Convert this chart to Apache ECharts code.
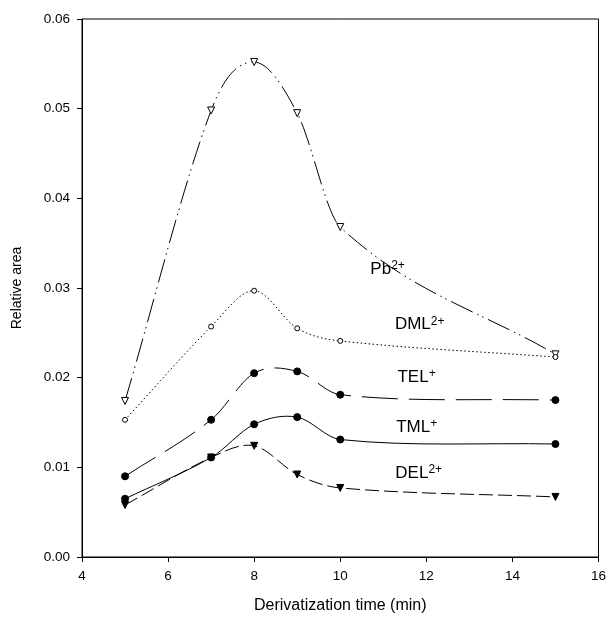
<!DOCTYPE html>
<html>
<head>
<meta charset="utf-8">
<script src="https://cdn.jsdelivr.net/npm/echarts@6/dist/echarts.min.js"></script>
<style>
  html, body { margin: 0; padding: 0; background: #fff; }
  #chart { width: 609px; height: 621px; }
</style>
</head>
<body>
<div id="chart"></div>
<script>
// Derivatization time (min)
const times = [5, 7, 8, 9, 10, 15];

// Relative area per species
const pb  = [0.0174, 0.0498, 0.0552, 0.0495, 0.0368, 0.0226];
const dml = [0.0153, 0.0257, 0.0297, 0.0255, 0.0241, 0.0223];
const tel = [0.0090, 0.0153, 0.0205, 0.0207, 0.0181, 0.0175];
const tml = [0.0065, 0.0111, 0.0148, 0.0156, 0.0131, 0.0126];
const del = [0.0058, 0.0111, 0.0124, 0.0092, 0.0077, 0.0067];

// Curve labels: [base text, superscript, x, y] in data units
const labelPb  = ['Pb',  '2+', 10.7, 0.0321];
const labelDml = ['DML', '2+', 11.27, 0.0259];
const labelTel = ['TEL', '+',  11.33, 0.0200];
const labelTml = ['TML', '+',  11.3, 0.0145];
const labelDel = ['DEL', '2+', 11.28, 0.0093];

const FONT = 'Liberation Sans, Arial, sans-serif';

function pairs(ys) { return times.map((t, i) => [t, ys[i]]); }

// Cubic Hermite spline through the points (central-difference slopes),
// expressed as Bezier segments and mapped to pixels by the axes.
function splinePath(ys, api) {
  const n = times.length;
  const m = [];
  for (let i = 0; i < n; i++) {
    if (i === 0) m.push((ys[1] - ys[0]) / (times[1] - times[0]));
    else if (i === n - 1) m.push((ys[n - 1] - ys[n - 2]) / (times[n - 1] - times[n - 2]));
    else m.push((ys[i + 1] - ys[i - 1]) / (times[i + 1] - times[i - 1]));
  }
  const p0 = api.coord([times[0], ys[0]]);
  let d = 'M' + p0[0] + ' ' + p0[1];
  for (let i = 0; i < n - 1; i++) {
    const h = times[i + 1] - times[i];
    const c1 = api.coord([times[i] + h / 3, ys[i] + m[i] * h / 3]);
    const c2 = api.coord([times[i + 1] - h / 3, ys[i + 1] - m[i + 1] * h / 3]);
    const p1 = api.coord([times[i + 1], ys[i + 1]]);
    d += ' C' + c1[0] + ' ' + c1[1] + ' ' + c2[0] + ' ' + c2[1] + ' ' + p1[0] + ' ' + p1[1];
  }
  return d;
}

function curveSeries(ys, dash) {
  return {
    type: 'custom',
    data: [0],
    silent: true,
    z: 2,
    renderItem: function (params, api) {
      return {
        type: 'path',
        shape: { pathData: splinePath(ys, api) },
        style: {
          fill: null,
          stroke: '#000',
          lineWidth: 1,
          lineDash: dash
        }
      };
    }
  };
}

function curveLabel(lbl) {
  return {
    silent: true,
    symbol: 'circle',
    symbolSize: 0,
    data: [{
      coord: [lbl[2], lbl[3]],
      label: {
        show: true,
        position: 'right',
        distance: 0,
        formatter: '{b|' + lbl[0] + '}{s|' + lbl[1] + '}',
        rich: {
          b: { fontSize: 17, fontFamily: FONT, color: '#000', lineHeight: 19 },
          s: { fontSize: 12, fontFamily: FONT, color: '#000', lineHeight: 12, verticalAlign: 'top' }
        }
      }
    }]
  };
}

function markerSeries(name, ys, symbol, rotate, size, filled, lbl) {
  return {
    name: name,
    type: 'scatter',
    data: pairs(ys),
    symbol: symbol,
    symbolRotate: rotate,
    symbolSize: size,
    itemStyle: { color: filled ? '#000' : '#fff', borderColor: '#000', borderWidth: 1, opacity: 1 },
    emphasis: { disabled: true },
    markPoint: curveLabel(lbl),
    z: 3
  };
}

const chart = echarts.init(document.getElementById('chart'), null, { renderer: 'canvas' });

chart.setOption({
  animation: false,
  backgroundColor: '#fff',
  grid: {
    left: 82, right: 7, top: 19, bottom: 64,
    show: true, borderColor: '#000', borderWidth: 1, backgroundColor: 'transparent'
  },
  xAxis: {
    type: 'value',
    min: 4, max: 16, interval: 2,
    name: 'Derivatization time (min)',
    nameLocation: 'middle',
    nameGap: 41,
    nameTextStyle: { fontSize: 16, fontFamily: FONT, color: '#000' },
    axisLine: { show: true, onZero: false, lineStyle: { color: '#000', width: 1 } },
    axisTick: { show: true, inside: false, length: 5, lineStyle: { color: '#000' } },
    axisLabel: { fontSize: 13.5, fontFamily: FONT, color: '#000', margin: 12 },
    splitLine: { show: false }
  },
  yAxis: {
    type: 'value',
    min: 0, max: 0.06, interval: 0.01,
    name: 'Relative area',
    nameLocation: 'middle',
    nameGap: 58,
    nameTextStyle: { fontSize: 14, fontFamily: FONT, color: '#000' },
    axisLine: { show: true, lineStyle: { color: '#000', width: 1 } },
    axisTick: { show: true, inside: false, length: 5, lineStyle: { color: '#000' } },
    axisLabel: {
      fontSize: 13.5, fontFamily: FONT, color: '#000', margin: 12,
      formatter: v => v.toFixed(2)
    },
    splitLine: { show: false }
  },
  series: [
    curveSeries(pb,  [24, 5, 1.5, 4, 1.5, 5]),
    curveSeries(dml, [1.5, 2.5]),
    curveSeries(tel, [36, 11]),
    curveSeries(tml, null),
    curveSeries(del, [14, 5]),
    markerSeries('Pb2+',  pb,  'triangle', 180, 7, false, labelPb),
    markerSeries('DML2+', dml, 'circle',   0,   5, false, labelDml),
    markerSeries('TEL+',  tel, 'circle',   0,   7, true,  labelTel),
    markerSeries('TML+',  tml, 'circle',   0,   7, true,  labelTml),
    markerSeries('DEL2+', del, 'triangle', 180, 7, true,  labelDel)
  ]
});
</script>
</body>
</html>
